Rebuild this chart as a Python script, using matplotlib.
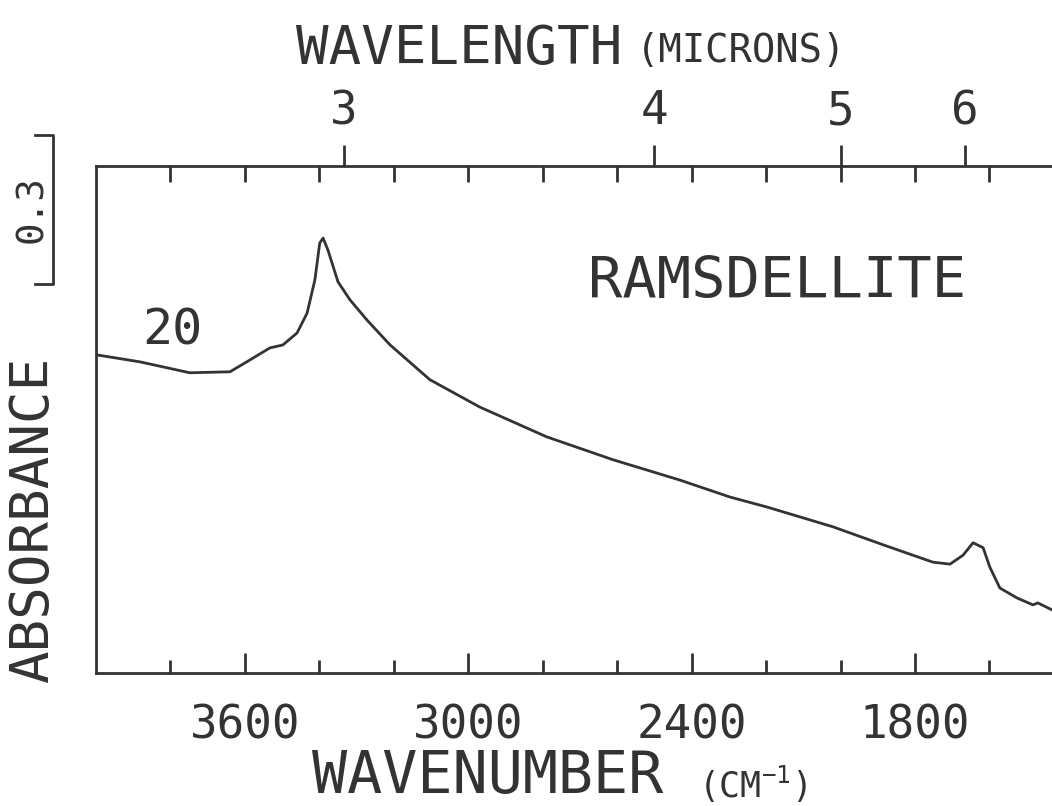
import matplotlib.pyplot as plt
import matplotlib.transforms as mtransforms

plt.rcParams['font.family'] = ['DejaVu Sans Mono', 'DejaVu Sans']
plt.rcParams['mathtext.fontset'] = 'custom'
plt.rcParams['mathtext.rm'] = 'DejaVu Sans Mono'

INK = '#333333'

# Spectrum (wavenumber in cm-1, absorbance)
wavenumber = [3998, 3882, 3748, 3640, 3595, 3533, 3498, 3460, 3433, 3412,
              3399, 3390, 3377, 3350, 3318, 3272, 3210, 3103, 2969, 2789,
              2611, 2431, 2297, 2198, 2020, 1886, 1752, 1706, 1671, 1644,
              1617, 1599, 1572, 1526, 1483, 1470, 1432]
absorbance = [0.640, 0.626, 0.604, 0.606, 0.626, 0.654, 0.660, 0.684, 0.724, 0.791,
              0.865, 0.875, 0.851, 0.787, 0.751, 0.710, 0.660, 0.590, 0.535, 0.475,
              0.429, 0.388, 0.354, 0.334, 0.294, 0.258, 0.223, 0.219, 0.237, 0.262,
              0.252, 0.213, 0.171, 0.151, 0.137, 0.141, 0.127]

major_wn = [3600, 3000, 2400, 1800]
minor_wn = [3800, 3400, 3200, 2800, 2600, 2200, 2000, 1600]
top_wn = [3800, 3600, 3400, 3200, 3000, 2800, 2600, 2400, 2200, 2000, 1800, 1600]
wavelength_ticks = [3, 4, 5, 6]

scale_bottom = 0.783
scale_size = 0.3

W, H = 1052, 806
fig = plt.figure(figsize=(W / 100, H / 100), dpi=100)
ax = fig.add_axes([96 / W, 1 - 673 / H, 1 - 96 / W, (673 - 166) / H])

ax.plot(wavenumber, absorbance, color=INK, lw=2.0, solid_joinstyle='round')
ax.set_xlim(4000, 1432)
ax.set_ylim(0, 1.02)

for side in ['left', 'bottom', 'top']:
    ax.spines[side].set_color(INK)
    ax.spines[side].set_linewidth(2.0)
ax.spines['right'].set_visible(False)

ax.set_yticks([])
ax.set_xticks(major_wn)
ax.set_xticklabels([str(v) for v in major_wn], fontsize=33, color=INK)
ax.set_xticks(minor_wn, minor=True)
ax.tick_params(axis='x', which='major', direction='in', length=14.5, width=2,
               color=INK, pad=22)
ax.tick_params(axis='x', which='minor', direction='in', length=9.5, width=2,
               color=INK)

# inward wavenumber ticks along the top edge
top_in = ax.secondary_xaxis('top')
top_in.set_xticks(top_wn)
top_in.set_xticklabels([])
top_in.tick_params(direction='in', length=11.5, width=2, color=INK)
top_in.spines['top'].set_visible(False)

# wavelength scale (microns) on top
top_um = ax.secondary_xaxis('top', functions=(lambda w: 1e4 / w, lambda l: 1e4 / l))
top_um.set_xticks(wavelength_ticks)
top_um.set_xticklabels([str(v) for v in wavelength_ticks], fontsize=33, color=INK)
top_um.tick_params(direction='out', length=15, width=2, color=INK, pad=8)
top_um.spines['top'].set_visible(False)

ax.text(3796, 0.69, '20', fontsize=36, color=INK, ha='center', va='center')
ax.text(2171, 0.785, 'RAMSDELLITE', fontsize=41, color=INK, ha='center', va='center')

fig.text(296 / W, 1 - 64 / H, 'WAVELENGTH', fontsize=39, color=INK,
         ha='left', va='baseline')
fig.text(636 / W, 1 - 62 / H, '(MICRONS)', fontsize=28, color=INK,
         ha='left', va='baseline')
fig.text(312 / W, 1 / H, 'WAVENUMBER', fontsize=42, color=INK,
         ha='left', va='bottom')
fig.text(698 / W, 1 / H, r'(CM$^{\mathrm{-1}}$)', fontsize=25, color=INK,
         ha='left', va='bottom')
fig.text(33 / W, 1 - 520 / H, 'ABSORBANCE', fontsize=39, color=INK,
         rotation=90, ha='center', va='center')

# 0.3 absorbance scale bar at the left
bar = mtransforms.blended_transform_factory(fig.transFigure, ax.transData)
x_bar, x_tick = 53 / W, 35 / W
ax.plot([x_tick, x_bar, x_bar, x_tick],
        [scale_bottom + scale_size, scale_bottom + scale_size, scale_bottom, scale_bottom],
        transform=bar, color=INK, lw=2.0, clip_on=False)
ax.text(32 / W, scale_bottom + scale_size / 2, '0.3', transform=bar, fontsize=27,
        color=INK, rotation=90, ha='center', va='center')

fig.savefig('out.png', dpi=100)
